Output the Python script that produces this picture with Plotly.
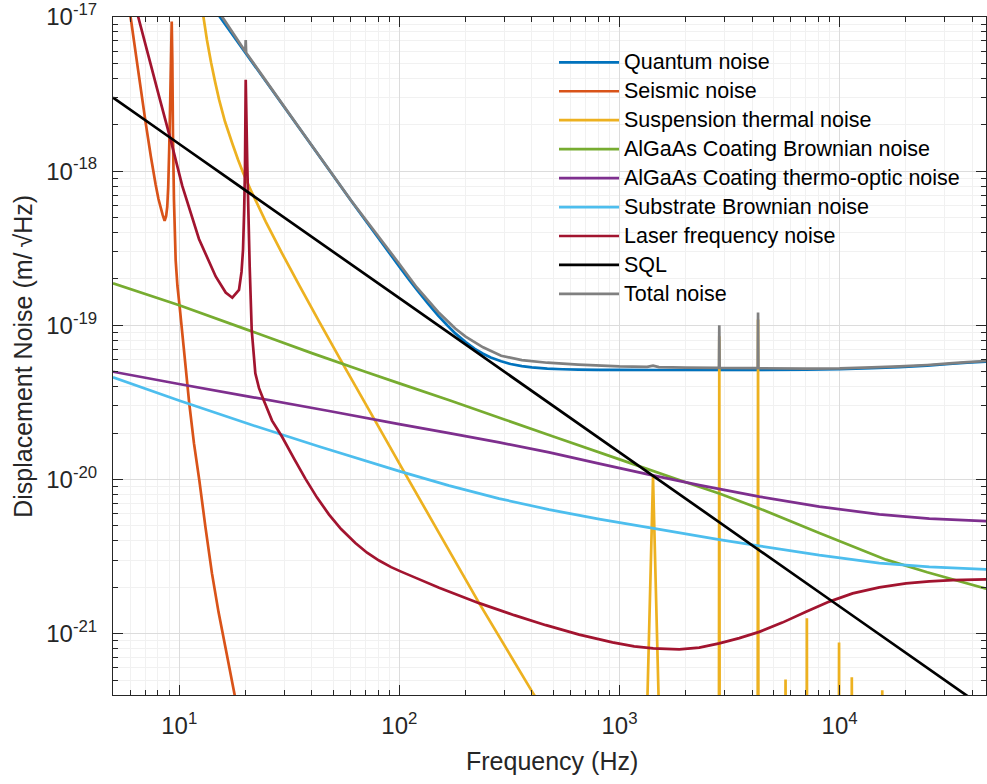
import plotly.graph_objects as go

# ---------------- data ----------------
f_quantum = [5, 10, 15.3, 20, 35, 60, 100, 110, 120, 135, 150, 165, 180, 200, 220, 240, 260, 290,
             320, 360, 400, 470, 550, 650, 800, 1000, 1500, 3000, 7000, 10000, 14000, 18700,
             25000, 31500, 38000, 46300]
quantum_noise = [9.36e-17, 2.34e-17, 1.0e-17, 5.85e-18, 1.91e-18, 6.5e-19, 2.4e-19, 2.0e-19,
                 1.705e-19, 1.383e-19, 1.156e-19, 1.001e-19, 8.83e-20, 7.78e-20, 7.03e-20,
                 6.54e-20, 6.18e-20, 5.84e-20, 5.61e-20, 5.44e-20, 5.33e-20, 5.24e-20, 5.19e-20,
                 5.16e-20, 5.14e-20, 5.135e-20, 5.13e-20, 5.13e-20, 5.16e-20, 5.19e-20, 5.27e-20,
                 5.36e-20, 5.48e-20, 5.61e-20, 5.72e-20, 5.81e-20]

f_seismic = [5, 6.01, 6.50, 7.04, 7.436, 7.81, 8.045, 8.405, 8.58, 8.72, 8.82, 8.91, 9.00, 9.10,
             9.19, 9.24, 9.30, 9.36, 9.46, 9.63, 9.81, 10.04, 10.47, 11.1, 11.66, 12.33, 13.15,
             14.08, 15.08, 16.19, 17.86, 18.68]
seismic_noise = [6e-17, 1.0e-17, 4.54e-18, 2.05e-18, 1.237e-18, 8.2e-19, 6.6e-19, 5.2e-19,
                 4.77e-19, 5.12e-19, 5.88e-19, 7.93e-19, 1.373e-18, 2.9e-18, 6.11e-18, 9.34e-18,
                 5.27e-18, 1.77e-18, 6.5e-19, 2.65e-19, 1.8e-19, 1.32e-19, 7.26e-20, 3.12e-20,
                 1.72e-20, 9.91e-21, 4.91e-21, 2.46e-21, 1.379e-21, 8.21e-22, 3.99e-22, 2.9e-22]

f_susp = [8, 10, 12.88, 13.36, 13.94, 14.54, 15.16, 16.13, 17.42, 18.48, 19.54, 21.47, 24.7,
          29.31, 35.0, 43.15, 55.1, 77.8, 102.9, 151.5, 230.3, 405.3, 531.9, 600, 1000,
          1335, 1420, 1510, 2000, 2830, 2840, 2850, 3500, 4245, 4260, 4275, 5000,
          5674, 5680, 5686, 6500, 7093, 7100, 7107, 8500, 9930, 9940, 9950, 10800,
          11349, 11360, 11371, 13000, 15605, 15620, 15635, 25000, 46300]
susp_thermal = [2.4e-16, 7.4e-17, 1.0e-17, 7.10e-18, 5.08e-18, 3.81e-18, 2.92e-18, 2.10e-18,
                1.512e-18, 1.191e-18, 9.69e-19, 7.17e-19, 4.71e-19, 2.93e-19, 1.83e-19,
                1.06e-19, 5.69e-20, 2.39e-20, 1.18e-20, 4.49e-21, 1.577e-21, 4.10e-22,
                2.15e-22, 1.59e-22, 4.5e-23,
                3.2e-22, 1.04e-20, 3.2e-22, 2e-23, 3.2e-22, 8.5e-20, 3.2e-22, 1e-23,
                3.2e-22, 1.09e-19, 3.2e-22, 6e-24, 3.2e-22, 5.05e-22, 3.2e-22, 4e-24,
                3.2e-22, 1.26e-21, 3.2e-22, 2e-24, 3.2e-22, 8.77e-22, 3.2e-22, 1.5e-24,
                3.2e-22, 5.22e-22, 3.2e-22, 1e-24, 3.2e-22, 4.3e-22, 3.2e-22, 4e-25, 1e-25]

f_coat_br = [5, 10, 20, 40, 70, 100, 170, 300, 500, 1000, 2000, 2839, 4315, 8085, 16250, 25000,
             46300]
coating_brownian = [1.873e-19, 1.35e-19, 9.45e-20, 6.6e-20, 5.0e-20, 4.2e-20, 3.25e-20, 2.45e-20,
                    1.9e-20, 1.35e-20, 9.6e-21, 8.1e-21, 6.49e-21, 4.5e-21, 3.02e-21, 2.5e-21,
                    1.96e-21]

f_coat_to = [5, 9.97, 20.74, 47.91, 99.7, 168.2, 283.9, 479.1, 808.6, 1365, 2303, 4315, 8086,
             15150, 25560, 46300]
coating_thermo_optic = [5.0e-20, 4.16e-20, 3.45e-20, 2.78e-20, 2.288e-20, 2.0e-20, 1.74e-20,
                        1.499e-20, 1.268e-20, 1.076e-20, 9.2e-21, 7.74e-21, 6.67e-21, 5.94e-21,
                        5.58e-21, 5.37e-21]

f_substrate = [5, 9.97, 20.74, 43.15, 99.7, 168.2, 283.9, 479.1, 808.6, 1365, 2839, 8086, 15150,
               25560, 46300]
substrate_brownian = [4.6e-20, 3.25e-20, 2.288e-20, 1.635e-20, 1.133e-20, 9.13e-21, 7.52e-21,
                      6.38e-21, 5.53e-21, 4.87e-21, 4.07e-21, 3.23e-21, 2.87e-21, 2.71e-21,
                      2.61e-21]

f_laser = [5, 6.51, 7.285, 8.086, 9.14, 10.32, 12.29, 14.64, 16.25, 17.42, 18.68, 19.18, 19.48,
           19.72, 19.89, 20.04, 20.38, 20.89, 21.34, 22.16, 23.03, 24.19, 26.39, 29.31, 33.22,
           37.39, 42.26, 47.91, 54.33, 63.1, 71.33, 80.85, 91.7, 101.8, 116.6, 151.5, 230.3,
           332.2, 463, 655.9, 929.2, 1166, 1423, 1868, 2303, 2839, 3501, 4315, 5490, 7037, 8980,
           11460, 15150, 20040, 25560, 32630, 46300]
laser_noise = [4.3e-17, 1.0e-17, 5.43e-18, 3.08e-18, 1.594e-18, 8.02e-19, 3.63e-19, 2.074e-19,
               1.632e-19, 1.51e-19, 1.695e-19, 2.22e-19, 3.08e-19, 5.6e-19, 1.07e-18, 3.91e-18,
               1.07e-18, 2.40e-19, 9.3e-20, 4.88e-20, 3.91e-20, 3.27e-20, 2.41e-20, 1.893e-20,
               1.367e-20, 1.013e-20, 7.63e-21, 5.92e-21, 4.77e-21, 3.87e-21, 3.35e-21, 2.98e-21,
               2.70e-21, 2.525e-21, 2.326e-21, 1.988e-21, 1.577e-21, 1.318e-21, 1.135e-21,
               9.85e-22, 8.77e-22, 8.27e-22, 8.02e-22, 7.90e-22, 8.11e-22, 8.64e-22, 9.35e-22,
               1.027e-21, 1.179e-21, 1.385e-21, 1.613e-21, 1.824e-21, 1.994e-21, 2.118e-21,
               2.185e-21, 2.225e-21, 2.248e-21]

f_sql = [5, 10, 100, 1000, 10000, 46300]
sql = [3.0e-18, 1.5e-18, 1.5e-19, 1.5e-20, 1.5e-21, 3.24e-22]

f_total = [5, 10, 12.88, 15.69, 19.95, 20.04, 20.13, 25, 35, 60, 100, 120, 150, 180, 200, 240,
           290, 360, 470, 650, 1000, 1335, 1420, 1510, 2000, 2830, 2840, 2850, 4245, 4260, 4275,
           7000, 10000, 14000, 18700, 25000, 31500, 38000, 46300]
total_noise = [1e-15, 7.8e-17, 1.73e-17, 1.0e-17, 5.98e-18, 7.1e-18, 5.87e-18, 3.78e-18,
               1.92e-18, 6.52e-19, 2.5e-19, 1.76e-19, 1.22e-19, 9.5e-20, 8.45e-20, 7.2e-20,
               6.35e-20, 5.95e-20, 5.72e-20, 5.56e-20, 5.42e-20, 5.38e-20, 5.47e-20, 5.36e-20,
               5.32e-20, 5.3e-20, 1.0e-19, 5.3e-20, 5.27e-20, 1.21e-19, 5.27e-20, 5.23e-20,
               5.25e-20, 5.33e-20, 5.42e-20, 5.53e-20, 5.66e-20, 5.77e-20, 5.87e-20]

series_names = ["Quantum noise", "Seismic noise", "Suspension thermal noise",
                "AlGaAs Coating Brownian noise", "AlGaAs Coating thermo-optic noise",
                "Substrate Brownian noise", "Laser frequency noise", "SQL", "Total noise"]

x_tick_vals = [10, 100, 1000, 10000]
x_tick_text = ["10<sup>1</sup>", "10<sup>2</sup>", "10<sup>3</sup>", "10<sup>4</sup>"]
y_tick_vals = [1e-21, 1e-20, 1e-19, 1e-18, 1e-17]
y_tick_text = ["10<sup>-21</sup>", "10<sup>-20</sup>", "10<sup>-19</sup>",
               "10<sup>-18</sup>", "10<sup>-17</sup>"]
x_minor_vals = [m * 10 ** e for e in range(0, 5) for m in range(2, 10)]
y_minor_vals = [m * 10.0 ** e for e in range(-22, -17) for m in range(2, 10)]

# ---------------- figure ----------------
colors = ["#0072BD", "#D95319", "#EDB120", "#77AC30", "#7E2F8E", "#4DBEEE", "#A2142F",
          "#000000", "#808080"]
xs = [f_quantum, f_seismic, f_susp, f_coat_br, f_coat_to, f_substrate, f_laser, f_sql, f_total]
ys = [quantum_noise, seismic_noise, susp_thermal, coating_brownian, coating_thermo_optic,
      substrate_brownian, laser_noise, sql, total_noise]

W, H = 987, 784
L, R, T, B = 113, 1, 17, 89
PW, PH = W - L - R, H - T - B
LW = 2.7


def px_x(px):
    return (px - L) / PW


def px_y(py):
    return (H - B - py) / PH


fig = go.Figure()
for name, c, x, y in zip(series_names, colors, xs, ys):
    fig.add_trace(go.Scatter(x=x, y=y, mode="lines", name=name, showlegend=False,
                             line=dict(color=c, width=LW, simplify=False)))

FONT = "Liberation Sans, Arial, Helvetica, sans-serif"
AX = "#262626"
axis_common = dict(
    type="log", showline=True, linecolor=AX, linewidth=1, mirror="ticks",
    ticks="inside", ticklen=10, tickwidth=1, tickcolor=AX,
    showgrid=True, gridcolor="#dcdcdc", gridwidth=1, zeroline=False,
    tickfont=dict(family=FONT, size=24, color=AX),
)
fig.update_xaxes(**axis_common, range=[0.69897, 4.665], tickmode="array",
                 tickvals=x_tick_vals, ticktext=x_tick_text, ticklabelstandoff=9,
                 minor=dict(tickmode="array", tickvals=x_minor_vals, ticks="inside",
                            ticklen=5, tickcolor=AX, showgrid=True, gridcolor="#f1f1f1"))
fig.update_yaxes(**axis_common, range=[-21.398, -17], tickmode="array",
                 tickvals=y_tick_vals, ticktext=y_tick_text, ticklabelstandoff=10,
                 minor=dict(tickmode="array", tickvals=y_minor_vals, ticks="inside",
                            ticklen=5, tickcolor=AX, showgrid=True, gridcolor="#f1f1f1"))

# legend drawn in the MATLAB style (60 px line samples)
shapes, annotations = [], []
for i, (name, c) in enumerate(zip(series_names, colors)):
    yc = 62.3 + i * 28.95
    shapes.append(dict(type="line", xref="paper", yref="paper",
                       x0=px_x(559), x1=px_x(619), y0=px_y(yc), y1=px_y(yc),
                       line=dict(color=c, width=LW)))
    annotations.append(dict(text=name, xref="paper", yref="paper", x=px_x(622), y=px_y(yc),
                            xanchor="left", yanchor="middle", showarrow=False,
                            font=dict(family=FONT, size=21.5, color="#000000")))

annotations += [
    dict(text="Frequency (Hz)", xref="paper", yref="paper", x=px_x(552), y=px_y(760.6),
         xanchor="center", yanchor="middle", showarrow=False,
         font=dict(family=FONT, size=25, color=AX)),
    dict(text="Displacement Noise (m/\u2009\u221aHz)", xref="paper", yref="paper",
         x=px_x(22.8), y=px_y(356), xanchor="center", yanchor="middle", textangle=-90,
         showarrow=False, font=dict(family=FONT, size=25, color=AX)),
]

fig.update_layout(
    width=W, height=H,
    margin=dict(l=L, r=R, t=T, b=B, autoexpand=False),
    paper_bgcolor="white", plot_bgcolor="white",
    font=dict(family=FONT, color=AX),
    showlegend=False,
    shapes=shapes,
    annotations=annotations,
)

fig.write_html("out.html")
